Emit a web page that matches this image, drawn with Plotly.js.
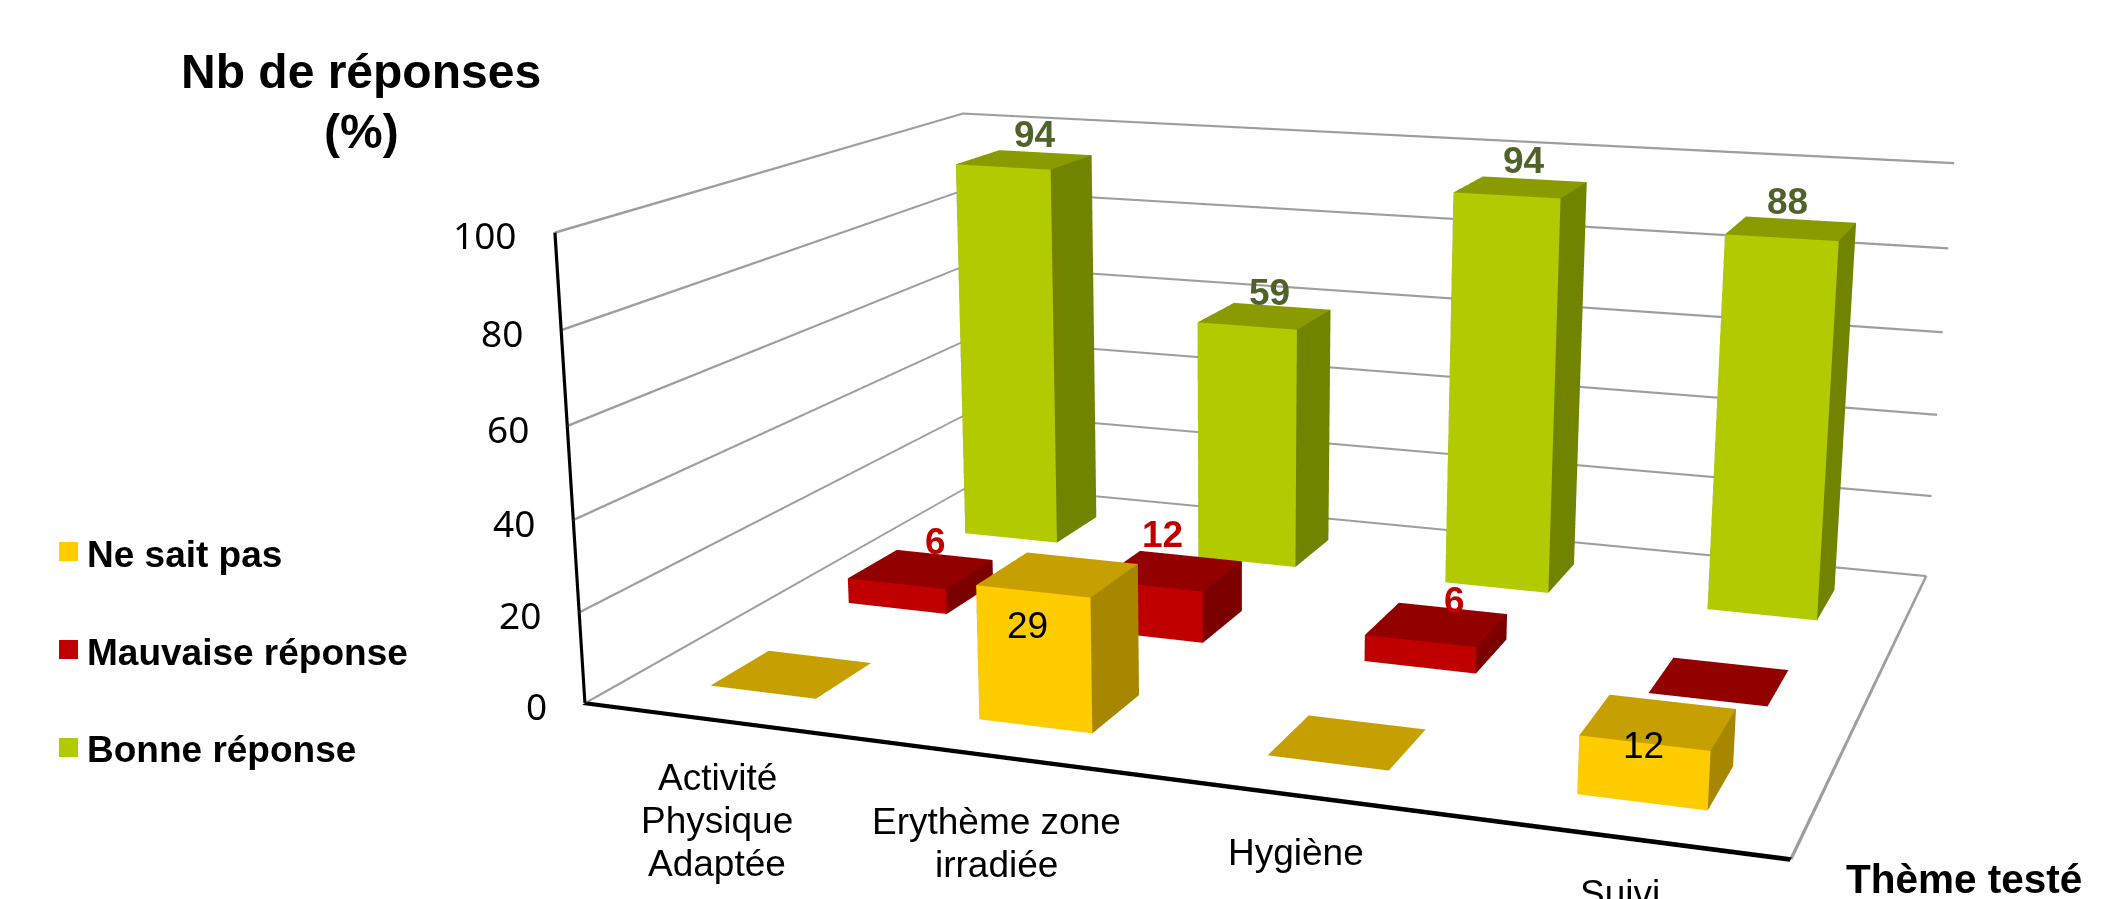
<!DOCTYPE html>
<html lang="fr">
<head>
<meta charset="utf-8">
<script src="https://cdn.plot.ly/plotly-3.0.1.min.js"></script>
<style>
  html, body { margin: 0; padding: 0; width: 2128px; height: 899px; overflow: hidden; background: #fff; }
  #chart { position: absolute; left: 0; top: -670px; width: 2128px; height: 2416px; }
</style>
</head>
<body>
<div id="chart"></div>
<script>
// Survey results per theme, in percent of answers.
const categories = ['Activité<br>Physique<br>Adaptée', 'Erythème zone<br>irradiée', 'Hygiène', 'Suivi'];
const bonneReponse = [94, 59, 94, 88];
const mauvaiseReponse = [6, 12, 6, 0];
const neSaitPas = [0, 29, 0, 12];
const valueTicks = [0, 20, 40, 60, 80, 100];

// Series run front to back along the depth axis; shifts nudge each data label off its bar top.
const series = [
  { name: 'Ne sait pas',      values: neSaitPas,       front: '#FFCC00', top: '#C5A000', side: '#A88700', label: '#000000', bold: false,
    dx: [0, -30, 0, -15], dy: [0, -51, 0, -23] },
  { name: 'Mauvaise réponse', values: mauvaiseReponse, front: '#C00000', top: '#930000', side: '#7C0000', label: '#C00000', bold: true,
    dx: [15, -8, 18, 0], dy: [28, 36, 24, 0] },
  { name: 'Bonne réponse',    values: bonneReponse,    front: '#B2CB00', top: '#8A9B00', side: '#728300', label: '#4F6228', bold: true,
    dx: [11, 5, 3, -4], dy: [25, 23, 27, 27] }
];

const BAR = 0.4;                       // bar footprint in category/series units
const xBox = [-0.5, 3.5], yBox = [-0.5, 2.5], zBox = [0, 100];   // plot box
const PAD = 0.05, ZPAD = 1;            // axis ranges reach slightly past the box so its rules are not clipped
const xRange = [xBox[0] - PAD, xBox[1] + PAD];
const yRange = [yBox[0] - PAD, yBox[1] + PAD];
const zRange = [zBox[0] - ZPAD, zBox[1] + ZPAD];

const FIG_H = 2416, FIG_W = 2128, FIG_TOP = -670;
const paperX = px => px / FIG_W;
const paperY = py => 1 - (py - FIG_TOP) / FIG_H;

const flatLight = { ambient: 1, diffuse: 0, specular: 0, fresnel: 0, roughness: 1 };

// One box as a mesh: 12 triangles coloured per face.
function barTrace(cx, cy, h, s) {
  const x0 = cx - BAR / 2, x1 = cx + BAR / 2, y0 = cy - BAR / 2, y1 = cy + BAR / 2;
  const x = [x0, x1, x1, x0, x0, x1, x1, x0];
  const y = [y0, y0, y1, y1, y0, y0, y1, y1];
  const z = [0, 0, 0, 0, h, h, h, h];
  const faces = [
    [0, 1, 5, s.front], [0, 5, 4, s.front],
    [1, 2, 6, s.side],  [1, 6, 5, s.side],
    [4, 5, 6, s.top],   [4, 6, 7, s.top],
    [2, 3, 7, s.side],  [2, 7, 6, s.side],
    [3, 0, 4, s.side],  [3, 4, 7, s.side],
    [0, 3, 2, s.top],   [0, 2, 1, s.top]
  ];
  return {
    type: 'mesh3d', x, y, z,
    i: faces.map(f => f[0]), j: faces.map(f => f[1]), k: faces.map(f => f[2]),
    facecolor: faces.map(f => f[3]),
    flatshading: true, lighting: flatLight,
    hoverinfo: 'skip', showscale: false, name: s.name
  };
}

// Wall and floor rules are thin flat quads so their weight holds at any depth.
function ribbon(x, y, z, color) {
  return { type: 'mesh3d', x, y, z, i: [0, 0], j: [1, 2], k: [2, 3], color,
           flatshading: true, lighting: flatLight, hoverinfo: 'skip', showscale: false };
}

const traces = [];
const [xa, xb] = xBox, [ya, yb] = yBox;
const GREY = '#9E9E9E', RULE = 0.27;

valueTicks.forEach(t => {
  const z0 = t - RULE, z1 = t + RULE;
  traces.push(ribbon([xa, xa, xa, xa], [ya, yb, yb, ya], [z0, z0, z1, z1], GREY));
  traces.push(ribbon([xa, xb, xb, xa], [yb, yb, yb, yb], [z0, z0, z1, z1], GREY));
});
traces.push(ribbon([xb - 0.005, xb + 0.005, xb + 0.005, xb - 0.005], [ya, ya, yb, yb], [0, 0, 0, 0], GREY));
traces.push(ribbon([xa, xb, xb, xa], [ya - 0.018, ya - 0.018, ya + 0.018, ya + 0.018], [0, 0, 0, 0], '#000000'));
traces.push(ribbon([xa - 0.006, xa + 0.006, xa + 0.006, xa - 0.006], [ya, ya, ya, ya], [0, 0, 100, 100], '#000000'));

series.forEach((s, row) => s.values.forEach((v, col) => traces.push(barTrace(col, row, v, s))));

const axisOff = { showgrid: false, showline: false, zeroline: false, showticklabels: false,
                  showbackground: false, showspikes: false, ticks: '', title: { text: '' } };

// Text anchored to the scene: value ticks, category names, data labels.
const sceneNotes = [];
valueTicks.forEach(t => sceneNotes.push({
  x: xa, y: ya, z: t, text: String(t), showarrow: false, xanchor: 'right', yanchor: 'middle',
  xshift: -36, yshift: -2, font: { family: 'Noto Sans, Open Sans', size: 37, color: '#000' }
}));
const catShift = [-57, -65, -57, -56];
const LINE_STEP = 43;
categories.forEach((c, i) => c.split('<br>').forEach((line, n) => sceneNotes.push({
  x: i, y: ya, z: 0, text: line, showarrow: false, xanchor: 'center', yanchor: 'middle',
  yshift: catShift[i] - n * LINE_STEP,
  font: { family: 'Liberation Sans, Arial', size: 37, color: '#000' }
})));
series.forEach((s, row) => s.values.forEach((v, col) => {
  if (v === 0) return;
  sceneNotes.push({
    x: col, y: row, z: v, text: String(v), showarrow: false, xanchor: 'center', yanchor: 'middle',
    xshift: s.dx[col], yshift: s.dy[col],
    font: { family: 'Liberation Sans, Arial', size: 37, color: s.label, weight: s.bold ? 700 : 400 }
  });
}));

// Titles and legend keys live on the page around the scene.
const notes = [
  { x: 361, y: 72, text: '<b>Nb de réponses</b>', size: 48 },
  { x: 361, y: 131, text: '<b>(%)</b>', size: 48 },
  { x: 1964, y: 879, text: '<b>Thème testé</b>', size: 40.5 }
].map(n => ({ xref: 'paper', yref: 'paper', x: paperX(n.x), y: paperY(n.y), text: n.text,
              showarrow: false, xanchor: 'center', yanchor: 'middle',
              font: { family: 'Liberation Sans, Arial', size: n.size, color: '#000' } }));

const legendRows = [542, 640, 738];
const shapes = [];
series.forEach((s, r) => {
  shapes.push({ type: 'rect', xref: 'paper', yref: 'paper', line: { width: 0 }, fillcolor: s.front,
                x0: paperX(59), x1: paperX(78), y0: paperY(legendRows[r] + 19), y1: paperY(legendRows[r]) });
  notes.push({ xref: 'paper', yref: 'paper', x: paperX(85), y: paperY(legendRows[r] + 12),
               text: '<b>' + s.name + '</b>', showarrow: false, xanchor: 'left', yanchor: 'middle',
               font: { family: 'Liberation Sans, Arial', size: 37, color: '#000' } });
});

// Box proportions, scaled up to cover the padded axis ranges.
const boxAspect = { x: 1, y: 0.7604, z: 0.3950 };
const span = (r) => r[1] - r[0];

const layout = {
  width: FIG_W, height: FIG_H, margin: { l: 0, r: 0, t: 0, b: 0 }, showlegend: false,
  paper_bgcolor: '#fff', hovermode: false,
  annotations: notes, shapes,
  scene: {
    domain: { x: [334 / 2128, 1], y: [0, 1] },
    aspectmode: 'manual',
    aspectratio: {
      x: boxAspect.x * span(xRange) / span(xBox),
      y: boxAspect.y * span(yRange) / span(yBox),
      z: boxAspect.z * span(zRange) / span(zBox)
    },
    xaxis: Object.assign({ range: xRange }, axisOff),
    yaxis: Object.assign({ range: yRange }, axisOff),
    zaxis: Object.assign({ range: zRange }, axisOff),
    camera: { eye: { x: 0.7927, y: -2.352, z: 0.5955 }, center: { x: -0.0506, y: -0.0449, z: -0.1002 },
              up: { x: 0, y: 0, z: 1 } },
    annotations: sceneNotes
  }
};

Plotly.newPlot('chart', traces, layout, { displayModeBar: false, responsive: false });
</script>
</body>
</html>
